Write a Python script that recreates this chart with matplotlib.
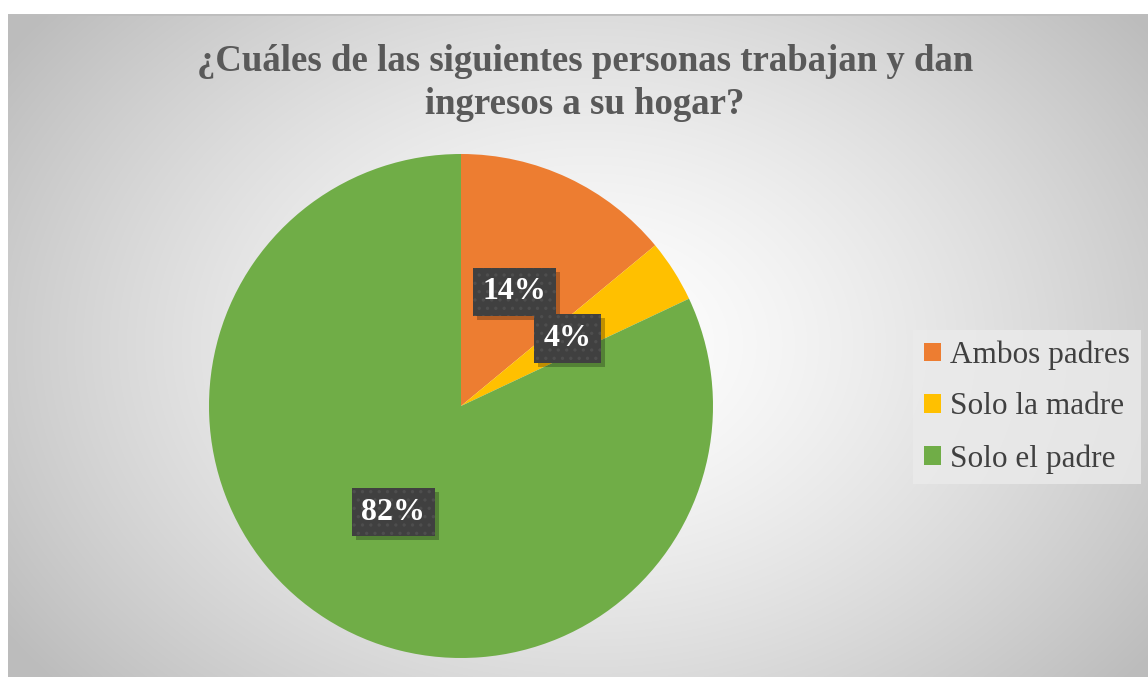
import numpy as np
import matplotlib.pyplot as plt
from matplotlib.patches import Rectangle
from matplotlib.transforms import IdentityTransform

# data
labels = ['Ambos padres', 'Solo la madre', 'Solo el padre']
values = [14, 4, 82]
colors = ['#ed7d31', '#ffc000', '#70ad47']
title = '¿Cuáles de las siguientes personas trabajan y dan\ningresos a su hogar?'

plt.rcParams['font.family'] = ['Liberation Serif', 'DejaVu Serif']
plt.rcParams['hatch.linewidth'] = 1.2

W, H = 1148, 677
fig = plt.figure(figsize=(W / 100, H / 100), dpi=100)

# radial gradient background of the chart area
x0, y0 = 8, 14
bg = fig.add_axes([x0 / W, 0, (W - x0) / W, (H - y0) / H], zorder=0)
yy, xx = np.mgrid[0:H - y0, 0:W - x0]
cx, cy = 580, 330
d = np.sqrt(((xx - cx) / 700.0) ** 2 + ((yy - cy) / 520.0) ** 2)
g = np.clip(1.0 - 0.26 * d ** 1.4, 0.74, 1.0)
bg.imshow(np.dstack([g, g, g]), aspect='auto', extent=(0, 1, 0, 1), origin='upper')
bg.axis('off')
bg.axhline(1, color='#bdbdbd', lw=2)

# pie
cxp, cyp, r = 461, 406, 252
ax = fig.add_axes([(cxp - r) / W, (H - cyp - r) / H, 2 * r / W, 2 * r / H], zorder=2)
wedges, texts, autotexts = ax.pie(values, colors=colors, startangle=90, counterclock=False,
                                  autopct='%1.0f%%', pctdistance=0.5,
                                  wedgeprops={'linewidth': 0})
ax.set_xlim(-1, 1)
ax.set_ylim(-1, 1)
for t in autotexts:
    t.set_color('white')
    t.set_fontsize(23)
    t.set_fontweight('bold')
    t.set_zorder(4)
    t.set_bbox(dict(boxstyle='square,pad=0.3', facecolor='#404040', edgecolor='#4e4e4e',
                    hatch='..', linewidth=0))

# title
fig.text(585 / W, 1 - 83 / H, title, ha='center', va='center', fontsize=26.5,
         fontweight='bold', color='#595959', linespacing=1.28)

# legend
leg = fig.legend(wedges, labels, loc='center left', bbox_to_anchor=(913 / W, 1 - 407 / H),
                 frameon=True, fontsize=22.5, handlelength=0.55, handleheight=0.55,
                 handletextpad=0.3, labelspacing=0.72, borderpad=0.35, borderaxespad=0,
                 fancybox=False)
leg.get_frame().set_facecolor('#ebebeb')
leg.get_frame().set_edgecolor('none')
leg.get_frame().set_alpha(0.8)
for t in leg.get_texts():
    t.set_color('#404040')

# drop shadows behind the label boxes
fig.canvas.draw()
for t in autotexts:
    bb = t.get_bbox_patch().get_window_extent()
    ax.add_artist(Rectangle((bb.x0 + 4, bb.y0 - 4), bb.width, bb.height,
                            transform=IdentityTransform(), facecolor='black', alpha=0.25,
                            linewidth=0, zorder=3, clip_on=False))

plt.savefig('out.png', dpi=100)
